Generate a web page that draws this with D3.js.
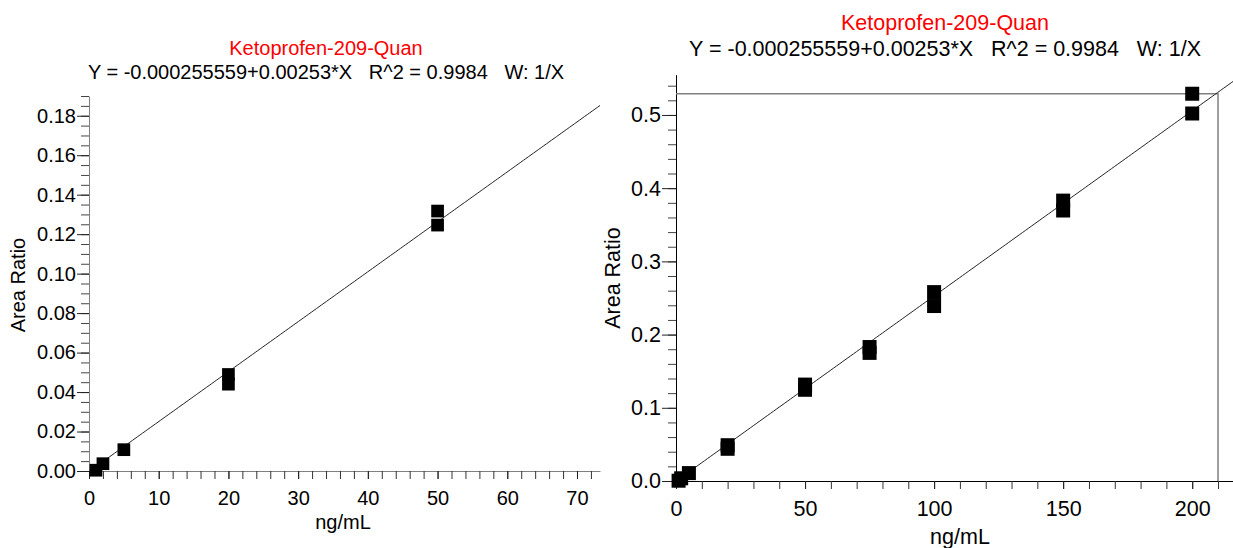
<!DOCTYPE html>
<html>
<head>
<meta charset="utf-8">
<script src="https://cdn.jsdelivr.net/npm/d3@7"></script>
<style>
  body { margin: 0; background: white; }
  text { font-family: "Liberation Sans", Arial, sans-serif; }
</style>
</head>
<body>
<div id="chart"></div>
<script>
// calibration data (ng/mL vs area ratio)
var concentrations = [1, 2, 5, 20, 20, 50, 50, 75, 75, 100, 100, 150, 150, 200, 200];
var areaRatios = [0.0004, 0.0037, 0.0108, 0.0489, 0.0440, 0.1317, 0.1246, 0.183, 0.175, 0.258, 0.239, 0.383, 0.3695, 0.529, 0.502];

// fit
var intercept = -0.000255559;
var slope = 0.00253;

var titleText = "Ketoprofen-209-Quan";
var equationText = "Y = -0.000255559+0.00253*X   R^2 = 0.9984   W: 1/X";
var xTitle = "ng/mL";
var yTitle = "Area Ratio";

// tick labels
var leftXTicks = [0, 10, 20, 30, 40, 50, 60, 70];
var leftYTicks = [0, 0.02, 0.04, 0.06, 0.08, 0.10, 0.12, 0.14, 0.16, 0.18];
var rightXTicks = [0, 50, 100, 150, 200];
var rightYTicks = [0, 0.1, 0.2, 0.3, 0.4, 0.5];

var data = concentrations.map((c, i) => ({x: c, y: areaRatios[i]}));

var width = 1233, height = 548;

var svg = d3.select("#chart").append("svg")
    .attr("width", width)
    .attr("height", height);

svg.append("rect")
    .attr("width", width)
    .attr("height", height)
    .attr("fill", "white");

function drawPanel(p) {
  var g = svg.append("g");
  var x = p.x, y = p.y;

  // titles
  g.append("text")
      .attr("x", p.titleX)
      .attr("y", p.titleY)
      .attr("text-anchor", "middle")
      .attr("fill", "#ff0000")
      .style("font-size", p.font + "px")
      .text(titleText);

  g.append("text")
      .attr("x", p.titleX)
      .attr("y", p.titleY + p.font * 1.2)
      .attr("text-anchor", "middle")
      .attr("fill", "black")
      .style("font-size", p.font + "px")
      .style("white-space", "pre")
      .text(equationText);

  // minor ticks
  var minorX = d3.range(0, p.xTickEnd + 0.001, p.xMinor);
  var minorY = d3.range(0, p.yTickEnd + 0.0001, p.yMinor);

  g.append("g")
      .attr("transform", `translate(0, ${y.range()[0]})`)
      .call(d3.axisBottom(x).tickValues(minorX).tickSize(8).tickSizeOuter(0).tickFormat(""))
      .call(a => a.select(".domain").attr("stroke", p.axisColor))
      .call(a => a.selectAll(".tick line").attr("stroke", "#333"));

  g.append("g")
      .attr("transform", `translate(${x.range()[0]}, 0)`)
      .call(d3.axisLeft(y).tickValues(minorY).tickSize(8).tickSizeOuter(0).tickFormat(""))
      .call(a => a.select(".domain").attr("stroke", p.axisColor))
      .call(a => a.selectAll(".tick line").attr("stroke", "#444"));

  // major ticks + labels
  g.append("g")
      .attr("transform", `translate(0, ${y.range()[0]})`)
      .call(d3.axisBottom(x).tickValues(p.xTicks).tickSize(8).tickPadding(12).tickSizeOuter(0))
      .call(a => a.select(".domain").remove())
      .call(a => a.selectAll(".tick line").attr("stroke", "#222"))
      .call(a => a.selectAll("text").attr("fill", "black")
          .style("font-size", p.font + "px").style("font-family", "Liberation Sans, Arial, sans-serif"));

  g.append("g")
      .attr("transform", `translate(${x.range()[0]}, 0)`)
      .call(d3.axisLeft(y).tickValues(p.yTicks).tickSize(p.majorLen).tickPadding(1).tickSizeOuter(0)
          .tickFormat(d3.format(p.yFormat)))
      .call(a => a.select(".domain").remove())
      .call(a => a.selectAll(".tick line").attr("stroke", "#222"))
      .call(a => a.selectAll("text").attr("fill", "black")
          .style("font-size", p.font + "px").style("font-family", "Liberation Sans, Arial, sans-serif"));

  // axis titles
  g.append("text")
      .attr("x", p.xLabelX)
      .attr("y", p.xLabelY)
      .attr("text-anchor", "middle")
      .style("font-size", p.font + "px")
      .text(xTitle);

  g.append("text")
      .attr("transform", `translate(${p.yLabelX}, ${p.yLabelY}) rotate(-90)`)
      .attr("text-anchor", "middle")
      .style("font-size", p.font + "px")
      .text(yTitle);

  if (p.frame) {
    var top = y(d3.max(areaRatios));
    g.append("path")
        .attr("d", `M${x(0)},${top}H${x(p.xTickEnd)}V${y(0)}`)
        .attr("fill", "none")
        .attr("stroke", "#808080")
        .attr("stroke-width", 1.5);
  }

  // regression line
  var xs = d3.range(0, p.lineEnd + 0.001, p.lineEnd / 200);
  g.append("path")
      .datum(xs)
      .attr("fill", "none")
      .attr("stroke", "#222")
      .attr("stroke-width", 1)
      .attr("d", d3.line().x(d => x(d)).y(d => y(intercept + slope * d)));

  // points
  var pts = data.filter(d => d.x <= x.domain()[1]);
  g.selectAll("rect.pt")
      .data(pts)
      .enter()
      .append("rect")
      .attr("class", "pt")
      .attr("x", d => x(d.x) - p.sq / 2)
      .attr("y", d => y(d.y) - p.sq / 2)
      .attr("width", p.sq)
      .attr("height", p.sq)
      .attr("fill", "black");
}

// left panel (low range)
drawPanel({
  x: d3.scaleLinear().domain([0, 73.3]).range([89, 600]),
  y: d3.scaleLinear().domain([0, 0.19]).range([471, 96]),
  xTicks: leftXTicks, yTicks: leftYTicks,
  xMinor: 2, yMinor: 0.005, xTickEnd: 72, yTickEnd: 0.19,
  yFormat: ".2f", majorLen: 12, axisColor: "#808080",
  font: 20, sq: 12.7,
  titleX: 326, titleY: 55,
  xLabelX: 343, xLabelY: 529,
  yLabelX: 25, yLabelY: 285,
  lineEnd: 73.3, frame: false
});

// right panel (full range)
drawPanel({
  x: d3.scaleLinear().domain([0, 216]).range([676, 1233.5]),
  y: d3.scaleLinear().domain([0, 0.555]).range([481, 74.7]),
  xTicks: rightXTicks, yTicks: rightYTicks,
  xMinor: 10, yMinor: 0.02, xTickEnd: 210, yTickEnd: 0.54,
  yFormat: ".1f", majorLen: 14, axisColor: "black",
  font: 21.5, sq: 14,
  titleX: 945, titleY: 30,
  xLabelX: 960, xLabelY: 544,
  yLabelX: 620, yLabelY: 278,
  lineEnd: 222, frame: true
});
</script>
</body>
</html>
